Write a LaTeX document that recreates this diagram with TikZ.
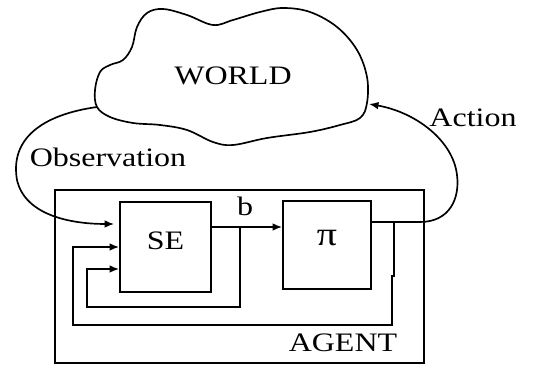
\documentclass[tikz,border=0pt]{standalone}
\usepackage{fontspec}
\setmainfont[FakeStretch=1.2]{Liberation Serif}
\usetikzlibrary{arrows.meta,calc}
\tikzset{
  wire/.style ={line width=1pt},
  blk/.style  ={rectangle, draw, wire, minimum width=52.8pt, minimum height=52.8pt,
                text depth=8pt, inner sep=0pt},
  flow/.style ={-{Latex[length=2mm,width=1.6mm]}, wire},
  lbl/.style  ={inner sep=1pt}
}
\begin{document}
\begin{tikzpicture}[x=0.6pt, y=-0.6pt, font=\fontsize{16}{19}\selectfont]
\useasboundingbox (0,0) rectangle (534,365);
% ---- World ----
\draw[wire] plot[smooth cycle, tension=0.6] coordinates {
  (97,107) (95,90) (100,72) (110,65) (123,60) (132,47) (137,27) (147,13)
  (163,9) (187,15) (213,25) (233,20) (260,12) (283,8) (310,12) (337,27)
  (357,50) (367,77) (367,103) (360,118) (340,125) (310,132) (267,138)
  (233,145) (213,142) (187,130) (160,125) (133,123) (110,117)};
\node[lbl] (world) at (233,76) {WORLD};
\coordinate (obsout) at (97,107);
\coordinate (actin) at (369,104);

% ---- Agent ----
\node[draw, wire, minimum width=221.4pt, minimum height=103.8pt] (agent) at (239.5,276.5) {};
\node[lbl] (agentlbl) at (343,343) {AGENT};
\node[blk, minimum width=54.6pt, minimum height=54pt] (se) at (165.5,247) {SE};
\node[blk, font=\fontsize{20}{22}\selectfont] (pi) at (327,245) {π};
\node[lbl] (b) at (245,206) {b};
\coordinate (bsplit) at (240,227);
\coordinate (asplit) at (394,222);

% ---- Edges ----
\draw[flow] (se.east |- bsplit) -- (pi.west |- bsplit);
\draw[flow] (bsplit) |- (87,307) |- ($(se.west)+(0,22)$);
\draw[flow] (asplit) -- (394,276) -- (392,276) |- (73,325) |- (se.west);
\draw[flow, shorten >=3pt] (obsout) .. controls (40,115) and (10,140) .. (17,180)
  .. controls (25,215) and (70,224) .. ($(se.west)+(0,-23)$);
\draw[flow] (pi.east |- asplit) -- (420,222) .. controls (450,222) and (460,198) .. (457,175)
  .. controls (453,140) and (415,112) .. (actin);
\node[lbl] (obs) at (108,157) {Observation};
\node[lbl] (act) at (473,118) {Action};
\end{tikzpicture}
\end{document}
